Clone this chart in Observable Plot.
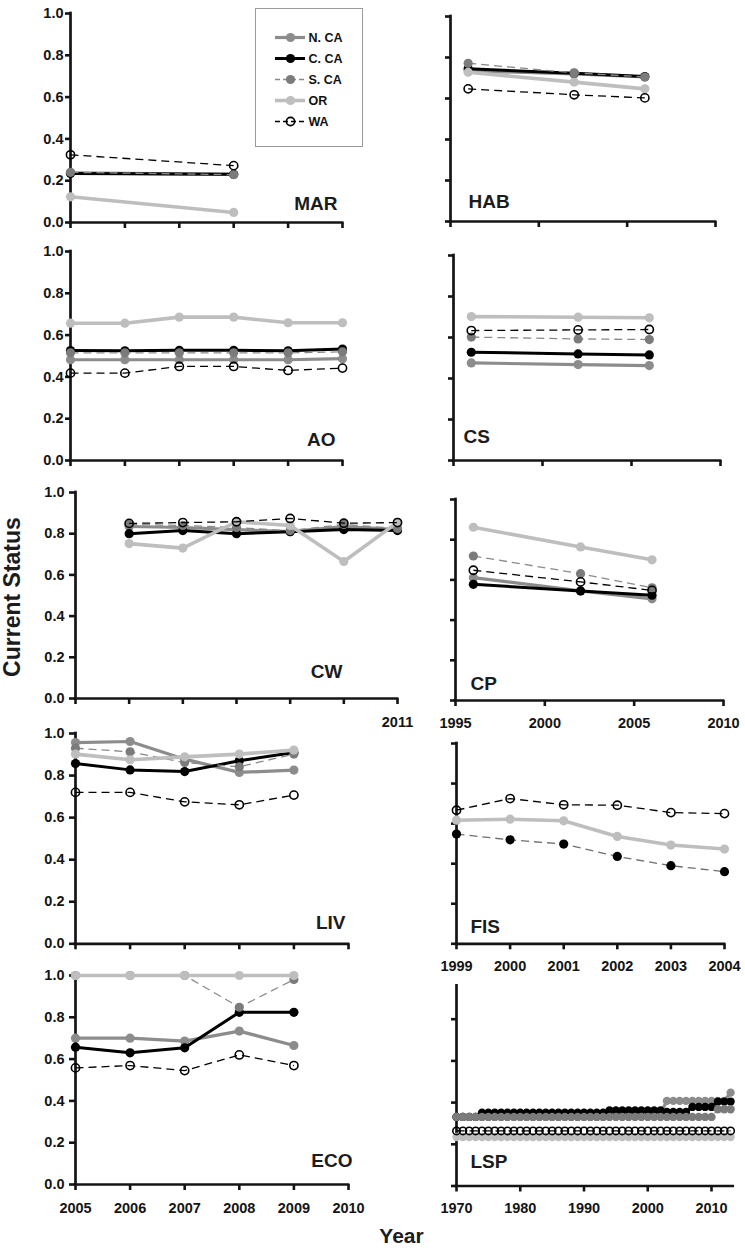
<!DOCTYPE html>
<html>
<head>
<meta charset="utf-8">
<script src="https://cdn.jsdelivr.net/npm/d3@7"></script>
<script src="https://cdn.jsdelivr.net/npm/@observablehq/plot@0.6"></script>
<style>
  body { margin: 0; background: #fff; }
  #root { position: relative; width: 745px; height: 1251px; overflow: hidden; background: #fff;
          font-family: "Liberation Sans", Arial, sans-serif; }
  #root svg.plot-panel { position: absolute; }
  #titles { position: absolute; left: 0; top: 0; pointer-events: none; }
</style>
</head>
<body>
<div id="root"></div>
<script>
// ---------------- DATA ----------------
const seriesKeys = ["N.CA", "C.CA", "S.CA", "OR", "WA"];
const legendLabels = ["N. CA", "C. CA", "S. CA", "OR", "WA"];

const yTicks01 = [0, 0.2, 0.4, 0.6, 0.8, 1.0];
const yTickLabels01 = ["0.0", "0.2", "0.4", "0.6", "0.8", "1.0"];
const lspYTicks = [0, 0.2, 0.4, 0.6, 0.8];

const ticks2005to2010 = [2005, 2006, 2007, 2008, 2009, 2010];
const labels2005to2010 = ["2005", "2006", "2007", "2008", "2009", "2010"];
const ticks1995to2010 = [1995, 2000, 2005, 2010];
const labels1995to2010 = ["1995", "2000", "2005", "2010"];
const cwXTicks = [2005, 2006, 2007, 2008, 2009, 2010, 2011];
const cwXLabels = ["", "", "", "", "", "", "2011"];
const fisXTicks = [1999, 2000, 2001, 2002, 2003, 2004];
const fisXLabels = ["1999", "2000", "2001", "2002", "2003", "2004"];
const lspXTicks = [1970, 1980, 1990, 2000, 2010];
const lspXLabels = ["1970", "1980", "1990", "2000", "2010"];

// MAR
const marYears = [2005, 2008];
const marNCA = [0.237, 0.230];
const marCCA = [0.234, 0.231];
const marSCA = [0.240, 0.229];
const marOR  = [0.123, 0.048];
const marWA  = [0.324, 0.272];

// HAB
const habYears = [1996, 2002, 2006];
const habNCA = [0.735, 0.720, 0.705];
const habCCA = [0.745, 0.723, 0.707];
const habSCA = [0.772, 0.725, 0.705];
const habOR  = [0.728, 0.680, 0.647];
const habWA  = [0.647, 0.618, 0.603];

// AO
const aoYears = [2005, 2006, 2007, 2008, 2009, 2010];
const aoNCA = [0.482, 0.482, 0.482, 0.482, 0.482, 0.487];
const aoCCA = [0.526, 0.525, 0.527, 0.527, 0.525, 0.533];
const aoSCA = [0.515, 0.515, 0.515, 0.515, 0.515, 0.520];
const aoOR  = [0.657, 0.657, 0.686, 0.686, 0.659, 0.659];
const aoWA  = [0.418, 0.418, 0.450, 0.450, 0.431, 0.442];

// CS
const csYears = [1996, 2002, 2006];
const csNCA = [0.476, 0.468, 0.463];
const csCCA = [0.528, 0.520, 0.515];
const csSCA = [0.602, 0.593, 0.590];
const csOR  = [0.702, 0.699, 0.696];
const csWA  = [0.634, 0.637, 0.639];

// CW
const cwYears = [2006, 2007, 2008, 2009, 2010, 2011];
const cwNCA = [0.835, 0.830, 0.820, 0.810, 0.835, 0.820];
const cwCCA = [0.800, 0.815, 0.800, 0.810, 0.820, 0.815];
const cwSCA = [0.845, 0.840, 0.830, 0.815, 0.845, 0.825];
const cwOR  = [0.752, 0.730, 0.858, 0.840, 0.665, 0.855];
const cwWA  = [0.850, 0.854, 0.858, 0.874, 0.851, 0.854];

// CP
const cpYears = [1996, 2002, 2006];
const cpNCA = [0.611, 0.545, 0.506];
const cpCCA = [0.578, 0.545, 0.524];
const cpSCA = [0.719, 0.631, 0.561];
const cpOR  = [0.862, 0.764, 0.700];
const cpWA  = [0.648, 0.590, 0.548];

// LIV
const livYears = [2005, 2006, 2007, 2008, 2009];
const livNCA = [0.957, 0.962, 0.878, 0.815, 0.826];
const livCCA = [0.857, 0.827, 0.819, 0.870, 0.910];
const livSCA = [0.930, 0.913, 0.862, 0.842, 0.902];
const livOR  = [0.902, 0.875, 0.889, 0.902, 0.921];
const livWA  = [0.720, 0.720, 0.675, 0.661, 0.707];

// FIS
const fisYears = [1999, 2000, 2001, 2002, 2003, 2004];
const fisCA = [0.548, 0.519, 0.498, 0.436, 0.390, 0.360];
const fisOR = [0.617, 0.622, 0.614, 0.536, 0.493, 0.473];
const fisWA = [0.667, 0.725, 0.694, 0.692, 0.655, 0.650];

// ECO
const ecoYears = [2005, 2006, 2007, 2008, 2009];
const ecoNCA = [0.700, 0.700, 0.686, 0.734, 0.665];
const ecoCCA = [0.657, 0.630, 0.654, 0.824, 0.824];
const ecoSCA = [1.000, 1.000, 1.000, 0.848, 0.981];
const ecoOR  = [1.000, 1.000, 1.000, 1.000, 1.000];
const ecoWA  = [0.558, 0.569, 0.545, 0.620, 0.569];

// LSP (annual 1970-2013)
const lspYears = [
  1970, 1971, 1972, 1973, 1974, 1975, 1976, 1977, 1978, 1979,
  1980, 1981, 1982, 1983, 1984, 1985, 1986, 1987, 1988, 1989,
  1990, 1991, 1992, 1993, 1994, 1995, 1996, 1997, 1998, 1999,
  2000, 2001, 2002, 2003, 2004, 2005, 2006, 2007, 2008, 2009,
  2010, 2011, 2012, 2013];
const lspNCA = [
  0.331, 0.331, 0.331, 0.331, 0.331, 0.331, 0.331, 0.331, 0.331, 0.331,
  0.331, 0.331, 0.331, 0.331, 0.331, 0.331, 0.331, 0.331, 0.331, 0.331,
  0.331, 0.331, 0.331, 0.331, 0.350, 0.350, 0.350, 0.350, 0.350, 0.350,
  0.350, 0.350, 0.350, 0.408, 0.408, 0.408, 0.408, 0.408, 0.408, 0.408,
  0.408, 0.408, 0.408, 0.448];
const lspCCA = [
  0.331, 0.331, 0.331, 0.331, 0.352, 0.352, 0.352, 0.352, 0.352, 0.352,
  0.352, 0.352, 0.352, 0.352, 0.352, 0.352, 0.352, 0.352, 0.352, 0.352,
  0.352, 0.352, 0.352, 0.352, 0.363, 0.363, 0.363, 0.363, 0.363, 0.363,
  0.363, 0.363, 0.363, 0.355, 0.355, 0.355, 0.355, 0.379, 0.379, 0.379,
  0.379, 0.405, 0.405, 0.405];
const lspSCA = [
  0.331, 0.331, 0.331, 0.331, 0.331, 0.331, 0.331, 0.331, 0.331, 0.331,
  0.331, 0.331, 0.331, 0.331, 0.331, 0.331, 0.331, 0.331, 0.331, 0.331,
  0.331, 0.331, 0.331, 0.331, 0.331, 0.331, 0.331, 0.331, 0.331, 0.331,
  0.331, 0.331, 0.331, 0.331, 0.331, 0.331, 0.331, 0.331, 0.331, 0.331,
  0.331, 0.368, 0.368, 0.368];
const lspOR = [
  0.235, 0.235, 0.235, 0.235, 0.235, 0.235, 0.235, 0.235, 0.235, 0.235,
  0.235, 0.235, 0.235, 0.235, 0.235, 0.235, 0.235, 0.235, 0.235, 0.235,
  0.235, 0.235, 0.235, 0.235, 0.235, 0.235, 0.235, 0.235, 0.235, 0.235,
  0.235, 0.235, 0.235, 0.235, 0.235, 0.235, 0.235, 0.235, 0.235, 0.235,
  0.235, 0.235, 0.235, 0.235];
const lspWA = [
  0.264, 0.264, 0.264, 0.264, 0.264, 0.264, 0.264, 0.264, 0.264, 0.264,
  0.264, 0.264, 0.264, 0.264, 0.264, 0.264, 0.264, 0.264, 0.264, 0.264,
  0.264, 0.264, 0.264, 0.264, 0.264, 0.264, 0.264, 0.264, 0.264, 0.264,
  0.264, 0.264, 0.264, 0.264, 0.264, 0.264, 0.264, 0.264, 0.264, 0.264,
  0.264, 0.264, 0.264, 0.264];

// ---------------- STYLES ----------------
const AXIS = "#141414";
const FONT = "'Liberation Sans', Arial, Helvetica, sans-serif";
const styles = {
  "N.CA": {stroke: "#8c8c8c", sw: 3.2, dash: null, fill: "#8c8c8c", dotStroke: "none", dotSW: 0, r: 4.6},
  "C.CA": {stroke: "#000000", sw: 3.0, dash: null, fill: "#000000", dotStroke: "none", dotSW: 0, r: 4.6},
  "S.CA": {stroke: "#8a8a8a", sw: 1.3, dash: "8,5", fill: "#7b7b7b", dotStroke: "none", dotSW: 0, r: 4.6},
  "OR":   {stroke: "#bebebe", sw: 3.6, dash: null, fill: "#bebebe", dotStroke: "none", dotSW: 0, r: 4.6},
  "WA":   {stroke: "#000000", sw: 1.3, dash: "8,5", fill: "none", dotStroke: "#000000", dotSW: 1.6, r: 4.1},
  "CA":   {stroke: "#6e6e6e", sw: 1.3, dash: "8,5", fill: "#000000", dotStroke: "none", dotSW: 0, r: 4.6}
};

const root = document.getElementById("root");

function seriesMarks(key, years, vals, rScale = 1) {
  const s = styles[key];
  return [
    Plot.line(vals, {x: years, y: vals, stroke: s.stroke, strokeWidth: s.sw,
      strokeDasharray: s.dash ?? undefined, strokeLinejoin: "round", strokeLinecap: "butt"}),
    Plot.dot(vals, {x: years, y: vals, r: s.r * rScale, fill: s.fill,
      stroke: s.dotStroke, strokeWidth: s.dotSW})
  ];
}

function makePanel(c) {
  const mL = 62, mR = 30, mT = 14, mB = 42;
  const w = c.x1 - c.x0 + mL + mR;
  const h = c.y0 - c.y1 + mT + mB;
  const xFmt = new Map(c.xTicks.map((t, i) => [t, c.xLabels ? c.xLabels[i] : ""]));
  const yFmt = new Map(c.yTicks.map((t, i) => [t, c.yLabels ? c.yLabels[i] : ""]));
  const marks = [
    Plot.ruleX([c.xDomain[0]], {y1: 0, y2: c.yTop ?? 1, stroke: AXIS, strokeWidth: 2.7, strokeLinecap: "square"}),
    Plot.ruleY([0], {x1: c.xDomain[0], x2: c.xDomain[1], stroke: AXIS, strokeWidth: 2.7, strokeLinecap: "square"}),
    Plot.axisX({ticks: c.xTicks, tickSize: 6, tickPadding: c.xPad ?? 11,
      tickFormat: d => xFmt.get(d) ?? "", strokeWidth: 2.6, label: null,
      fontSize: 14.5, fontWeight: "bold", fontFamily: FONT}),
    Plot.axisY({ticks: c.yTicks, tickSize: c.ySize ?? 5, tickPadding: c.yPad ?? 2,
      tickFormat: d => yFmt.get(d) ?? "", strokeWidth: 2.6, label: null,
      fontSize: 14.5, fontWeight: "bold", fontFamily: FONT})
  ];
  for (const [key, vals] of c.series) marks.push(...seriesMarks(key, c.years, vals, c.rScale ?? 1));
  marks.push(Plot.text([c.label], {text: d => d, frameAnchor: "bottom-left", textAnchor: c.labAnchor,
    lineAnchor: "bottom", dx: c.labDx, dy: -c.labDy, fontSize: 19, fontWeight: "bold",
    fontFamily: FONT, fill: "#1c1c1c"}));
  const svg = Plot.plot({
    width: w, height: h,
    marginLeft: mL, marginRight: mR, marginTop: mT, marginBottom: mB,
    x: {domain: c.xDomain},
    y: {domain: [0, 1]},
    style: {background: "transparent", fontFamily: FONT, fontSize: "14.5px", fontWeight: "bold",
      color: AXIS, overflow: "visible"},
    marks
  });
  svg.classList.add("plot-panel");
  svg.style.left = (c.x0 - mL) + "px";
  svg.style.top = (c.y1 - mT) + "px";
  svg.style.maxWidth = "none";
  root.appendChild(svg);
}

const panels = [
  {label: "MAR", x0: 70, x1: 342, y1: 13, y0: 222, xDomain: [2005, 2010],
   xTicks: ticks2005to2010, xLabels: null, yTicks: yTicks01, yLabels: yTickLabels01,
   ySize: 5, yPad: 2, labAnchor: "end", labDx: 267, labDy: 13, years: marYears,
   series: [["N.CA", marNCA], ["C.CA", marCCA], ["S.CA", marSCA], ["OR", marOR], ["WA", marWA]]},
  {label: "HAB", x0: 450, x1: 715, y1: 16, y0: 221, xDomain: [1995, 2010],
   xTicks: ticks1995to2010, xLabels: null, yTicks: yTicks01, yLabels: null,
   ySize: 5, yPad: 2, labAnchor: "start", labDx: 18, labDy: 14, years: habYears,
   series: [["N.CA", habNCA], ["C.CA", habCCA], ["S.CA", habSCA], ["OR", habOR], ["WA", habWA]]},
  {label: "AO", x0: 70, x1: 342, y1: 251, y0: 460, xDomain: [2005, 2010],
   xTicks: ticks2005to2010, xLabels: null, yTicks: yTicks01, yLabels: yTickLabels01,
   ySize: 5, yPad: 2, labAnchor: "end", labDx: 265, labDy: 15, years: aoYears,
   series: [["N.CA", aoNCA], ["C.CA", aoCCA], ["S.CA", aoSCA], ["OR", aoOR], ["WA", aoWA]]},
  {label: "CS", x0: 453, x1: 720, y1: 255, y0: 460, xDomain: [1995, 2010],
   xTicks: ticks1995to2010, xLabels: null, yTicks: yTicks01, yLabels: null,
   ySize: 5, yPad: 2, labAnchor: "start", labDx: 10, labDy: 18, years: csYears,
   series: [["N.CA", csNCA], ["C.CA", csCCA], ["S.CA", csSCA], ["OR", csOR], ["WA", csWA]]},
  {label: "CW", x0: 75, x1: 397, y1: 491.7, y0: 697.7, xDomain: [2005, 2011],
   xTicks: cwXTicks, xLabels: cwXLabels, xPad: 12, yTicks: yTicks01, yLabels: yTickLabels01,
   ySize: 6, yPad: 5, labAnchor: "end", labDx: 267, labDy: 21, years: cwYears,
   series: [["N.CA", cwNCA], ["C.CA", cwCCA], ["S.CA", cwSCA], ["OR", cwOR], ["WA", cwWA]]},
  {label: "CP", x0: 455, x1: 723, y1: 499, y0: 700, xDomain: [1995, 2010],
   xTicks: ticks1995to2010, xLabels: labels1995to2010, xPad: 11, yTicks: yTicks01, yLabels: null,
   ySize: 5, yPad: 2, labAnchor: "start", labDx: 15, labDy: 11, years: cpYears,
   series: [["N.CA", cpNCA], ["C.CA", cpCCA], ["S.CA", cpSCA], ["OR", cpOR], ["WA", cpWA]]},
  {label: "LIV", x0: 75, x1: 348, y1: 732.7, y0: 943, xDomain: [2005, 2010],
   xTicks: ticks2005to2010, xLabels: null, yTicks: yTicks01, yLabels: yTickLabels01,
   ySize: 6, yPad: 5, labAnchor: "end", labDx: 270, labDy: 15, years: livYears,
   series: [["N.CA", livNCA], ["C.CA", livCCA], ["S.CA", livSCA], ["OR", livOR], ["WA", livWA]]},
  {label: "FIS", x0: 456, x1: 724, y1: 742.7, y0: 943, xDomain: [1999, 2004],
   xTicks: fisXTicks, xLabels: fisXLabels, xPad: 11, yTicks: yTicks01, yLabels: null,
   ySize: 5, yPad: 2, labAnchor: "start", labDx: 14, labDy: 11, years: fisYears,
   series: [["CA", fisCA], ["OR", fisOR], ["WA", fisWA]]},
  {label: "ECO", x0: 75, x1: 348, y1: 975, y0: 1184, xDomain: [2005, 2010],
   xTicks: ticks2005to2010, xLabels: labels2005to2010, xPad: 12, yTicks: yTicks01, yLabels: yTickLabels01,
   ySize: 6, yPad: 5, labAnchor: "end", labDx: 277, labDy: 18, years: ecoYears,
   series: [["N.CA", ecoNCA], ["C.CA", ecoCCA], ["S.CA", ecoSCA], ["OR", ecoOR], ["WA", ecoWA]]},
  {label: "LSP", x0: 456, x1: 732.7, y1: 976.5, y0: 1185, xDomain: [1970, 2013.4], yTop: 0.96,
   xTicks: lspXTicks, xLabels: lspXLabels, xPad: 11, yTicks: lspYTicks, yLabels: null,
   ySize: 5, yPad: 2, labAnchor: "start", labDx: 14, labDy: 18, years: lspYears, rScale: 0.9,
   series: [["N.CA", lspNCA], ["C.CA", lspCCA], ["S.CA", lspSCA], ["OR", lspOR], ["WA", lspWA]]}
];
panels.forEach(makePanel);

// ---------------- LEGEND ----------------
(function legend() {
  const marks = [Plot.frame({stroke: "#9a9a9a", strokeWidth: 1})];
  seriesKeys.forEach((key, i) => {
    const s = styles[key];
    const lab = legendLabels[i];
    marks.push(Plot.ruleY([lab], {x1: 0, x2: 1, stroke: s.stroke, strokeWidth: s.sw,
      strokeDasharray: s.dash ? "5,3" : undefined}));
    marks.push(Plot.dot([lab], {x: 0.5, y: d => d, r: s.r, fill: s.fill, stroke: s.dotStroke,
      strokeWidth: s.dotSW}));
    marks.push(Plot.text([lab], {x: 1, y: d => d, text: d => d, textAnchor: "start", dx: 3,
      fontSize: 12.5, fontWeight: "bold", fontFamily: FONT, fill: "#111"}));
  });
  const svg = Plot.plot({
    width: 109, height: 140, marginTop: 1, marginBottom: 1, marginLeft: 1, marginRight: 1,
    x: {domain: [0, 1], range: [21, 51], axis: null},
    y: {type: "point", domain: legendLabels, range: [17, 126.3], axis: null},
    style: {background: "#fff", fontFamily: FONT, overflow: "visible"},
    marks
  });
  svg.classList.add("plot-panel");
  svg.style.left = "254px";
  svg.style.top = "7px";
  svg.style.maxWidth = "none";
  root.appendChild(svg);
})();

// ---------------- AXIS TITLES ----------------
const ns = "http://www.w3.org/2000/svg";
const t = document.createElementNS(ns, "svg");
t.setAttribute("id", "titles");
t.setAttribute("width", 745);
t.setAttribute("height", 1251);
function addText(txt, attrs) {
  const e = document.createElementNS(ns, "text");
  for (const k in attrs) e.setAttribute(k, attrs[k]);
  e.textContent = txt;
  t.appendChild(e);
}
addText("Current Status", {transform: "translate(20,597) rotate(-90)", "text-anchor": "middle",
  "font-family": FONT, "font-weight": "bold", "font-size": 23, fill: "#1c1c1c"});
addText("Year", {x: 401.5, y: 1243, "text-anchor": "middle",
  "font-family": FONT, "font-weight": "bold", "font-size": 21, fill: "#1c1c1c"});
root.appendChild(t);
</script>
</body>
</html>
